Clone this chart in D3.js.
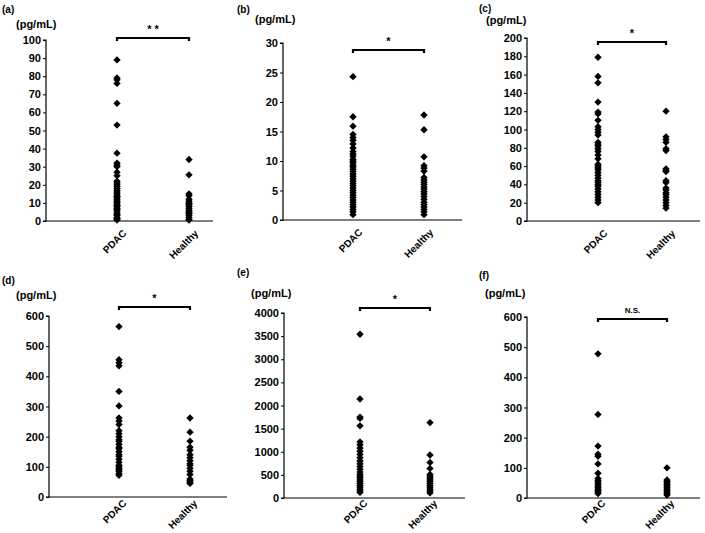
<!DOCTYPE html>
<html>
<head>
<meta charset="utf-8">
<script src="https://cdn.jsdelivr.net/npm/d3@7"></script>
<style>
  body { margin: 0; background: #fff; }
  svg { display: block; font-family: "Liberation Sans", Arial, sans-serif; font-weight: bold; }
</style>
</head>
<body>
<script>
// values (pg/mL)
var groups = ["PDAC", "Healthy"];

var aPDAC = [89, 79, 78, 76, 65, 53, 37.5, 32, 31, 30, 27, 25, 22, 21, 20, 19, 18, 17, 16, 15, 14, 13.5, 13, 12, 11, 10.5, 10, 9, 8.5, 8, 7, 6.5, 6, 5, 4, 3.5, 3, 2, 1.5, 1, 0.5];
var aHealthy = [34, 25.5, 15, 14, 12, 11, 10, 9.5, 9, 8, 7, 6, 5, 4.5, 4, 3, 2, 1, 0.5];

var bPDAC = [24.3, 17.5, 15.9, 14.5, 14, 13.5, 12.9, 12.2, 11.6, 11.2, 10.8, 10.3, 10, 9.7, 9.3, 9, 8.6, 8.2, 7.8, 7.4, 7, 6.6, 6.2, 5.8, 5.4, 5, 4.6, 4.2, 3.8, 3.4, 3.0, 2.6, 2.2, 1.8, 1.4, 0.9];
var bHealthy = [17.8, 15.3, 10.7, 9.2, 8.8, 8.3, 7.2, 6.8, 6.4, 6, 5.6, 5.2, 4.8, 4.4, 4, 3.5, 3, 2.6, 2.2, 1.8, 1.4, 0.9];

var cPDAC = [179, 158, 151, 130, 119, 117, 110, 103, 100, 97, 94, 86, 84, 82, 79, 76, 72, 68, 62, 60, 58, 56, 53, 50, 47, 44, 42, 40, 38, 35, 32, 29, 26, 23, 20];
var cHealthy = [120, 92, 89, 86, 79, 77, 57, 55, 54, 44, 42, 36, 34, 31, 29, 26, 23, 20, 17, 14];

var dPDAC = [565, 455, 445, 435, 350, 302, 262, 252, 240, 220, 210, 200, 190, 185, 175, 165, 160, 150, 140, 135, 125, 115, 105, 100, 95, 90, 85, 78, 72];
var dHealthy = [262, 215, 185, 165, 155, 140, 130, 120, 110, 105, 95, 85, 75, 60, 55, 50, 45];

var ePDAC = [3540, 2140, 1750, 1720, 1560, 1210, 1150, 1080, 1010, 940, 870, 800, 740, 680, 620, 560, 510, 470, 430, 390, 350, 310, 270, 230, 190, 150, 120];
var eHealthy = [1630, 930, 770, 640, 510, 470, 430, 390, 350, 310, 270, 230, 190, 150, 110];

var fPDAC = [478, 277, 172, 145, 138, 113, 82, 65, 58, 52, 46, 40, 35, 30, 25, 20, 15];
var fHealthy = [100, 60, 55, 50, 45, 40, 35, 30, 25, 20, 15, 10];

var yMax = [100, 30, 200, 600, 4000, 600];
var yStep = [10, 5, 20, 100, 500, 100];
var marks = ["* *", "*", "*", "*", "*", "N.S."];
var letters = ["(a)", "(b)", "(c)", "(d)", "(e)", "(f)"];

// layout of each panel in the page
var panels = [
  { id: 0, pdac: aPDAC, healthy: aHealthy, ax: 46,  top: 40,  bottom: 221, right: 213, c1: 117, c2: 189, brY: 38,  lx: 2,   ly: 13,  ux: 16,  uy: 28,  lab: [10, 13] },
  { id: 1, pdac: bPDAC, healthy: bHealthy, ax: 283, top: 43,  bottom: 220, right: 462, c1: 353, c2: 424, brY: 50,  lx: 237, ly: 13,  ux: 255, uy: 23,  lab: [10, 13] },
  { id: 2, pdac: cPDAC, healthy: cHealthy, ax: 527, top: 38,  bottom: 221, right: 700, c1: 598, c2: 666, brY: 42,  lx: 479, ly: 12,  ux: 486, uy: 24,  lab: [10, 13] },
  { id: 3, pdac: dPDAC, healthy: dHealthy, ax: 49,  top: 316, bottom: 497, right: 227, c1: 119, c2: 190, brY: 307, lx: 2,   ly: 284, ux: 16,  uy: 299, lab: [8, 7] },
  { id: 4, pdac: ePDAC, healthy: eHealthy, ax: 284, top: 313, bottom: 498, right: 465, c1: 360, c2: 430, brY: 308, lx: 237, ly: 276, ux: 251, uy: 297, lab: [8, 6] },
  { id: 5, pdac: fPDAC, healthy: fHealthy, ax: 527, top: 317, bottom: 498, right: 700, c1: 598, c2: 667, brY: 319, lx: 479, ly: 279, ux: 485, uy: 297, lab: [8, 6] }
];

var svg = d3.select("body").append("svg")
    .attr("width", 705)
    .attr("height", 533);

var diamond = d3.symbol().type(d3.symbolSquare).size(27);

panels.forEach(function (p) {
  var g = svg.append("g");
  var y = d3.scaleLinear().domain([0, yMax[p.id]]).range([p.bottom, p.top]);
  var x = d3.scaleOrdinal().domain(groups).range([p.c1, p.c2]);

  var yAxis = d3.axisLeft(y)
    .tickValues(d3.range(0, yMax[p.id] + yStep[p.id] / 2, yStep[p.id]))
    .tickSize(3)
    .tickPadding(2)
    .tickFormat(d3.format("d"));

  var ya = g.append("g").attr("transform", "translate(" + p.ax + ",0)").call(yAxis);
  ya.select(".domain").attr("stroke", "#000").attr("stroke-width", 1.2)
    .attr("d", "M-3," + p.bottom + "H0V" + p.top + "H-3");
  ya.selectAll("text").style("font-size", "11px").style("font-weight", "bold").attr("fill", "#000")
    .style("font-family", "'Liberation Sans', Arial, sans-serif");

  // x axis line
  g.append("line")
    .attr("x1", p.ax).attr("x2", p.right)
    .attr("y1", p.bottom).attr("y2", p.bottom)
    .attr("stroke", "#000").attr("stroke-width", 1.2);

  groups.forEach(function (name) {
    g.append("text")
      .attr("transform", "translate(" + (x(name) + p.lab[0]) + "," + (p.bottom + p.lab[1]) + ") rotate(-45)")
      .attr("text-anchor", "end")
      .attr("fill", "#000")
      .style("font-size", "10px")
      .text(name);
  });

  var pts = p.pdac.map(function (v) { return { g: "PDAC", v: v }; })
    .concat(p.healthy.map(function (v) { return { g: "Healthy", v: v }; }));

  g.append("g").selectAll("path")
    .data(pts)
    .enter().append("path")
    .attr("d", diamond)
    .attr("fill", "#000")
    .attr("transform", function (d) {
      return "translate(" + x(d.g) + "," + y(d.v) + ") rotate(45)";
    });

  // significance bracket
  g.append("path")
    .attr("d", "M" + p.c1 + "," + (p.brY + 3) + "V" + p.brY + "H" + p.c2 + "V" + (p.brY + 3))
    .attr("fill", "none").attr("stroke", "#000").attr("stroke-width", 2.2);

  var mark = marks[p.id];
  g.append("text")
    .attr("x", (p.c1 + p.c2) / 2)
    .attr("y", mark === "N.S." ? p.brY - 6 : p.brY - 5)
    .attr("text-anchor", "middle")
    .attr("fill", "#000")
    .style("font-size", mark === "N.S." ? "8px" : "11px")
    .text(mark);

  g.append("text")
    .attr("x", p.lx).attr("y", p.ly)
    .attr("fill", "#000")
    .style("font-size", "10px")
    .text(letters[p.id]);

  g.append("text")
    .attr("x", p.ux).attr("y", p.uy)
    .attr("fill", "#000")
    .style("font-size", "11px")
    .text("(pg/mL)");
});
</script>
</body>
</html>
